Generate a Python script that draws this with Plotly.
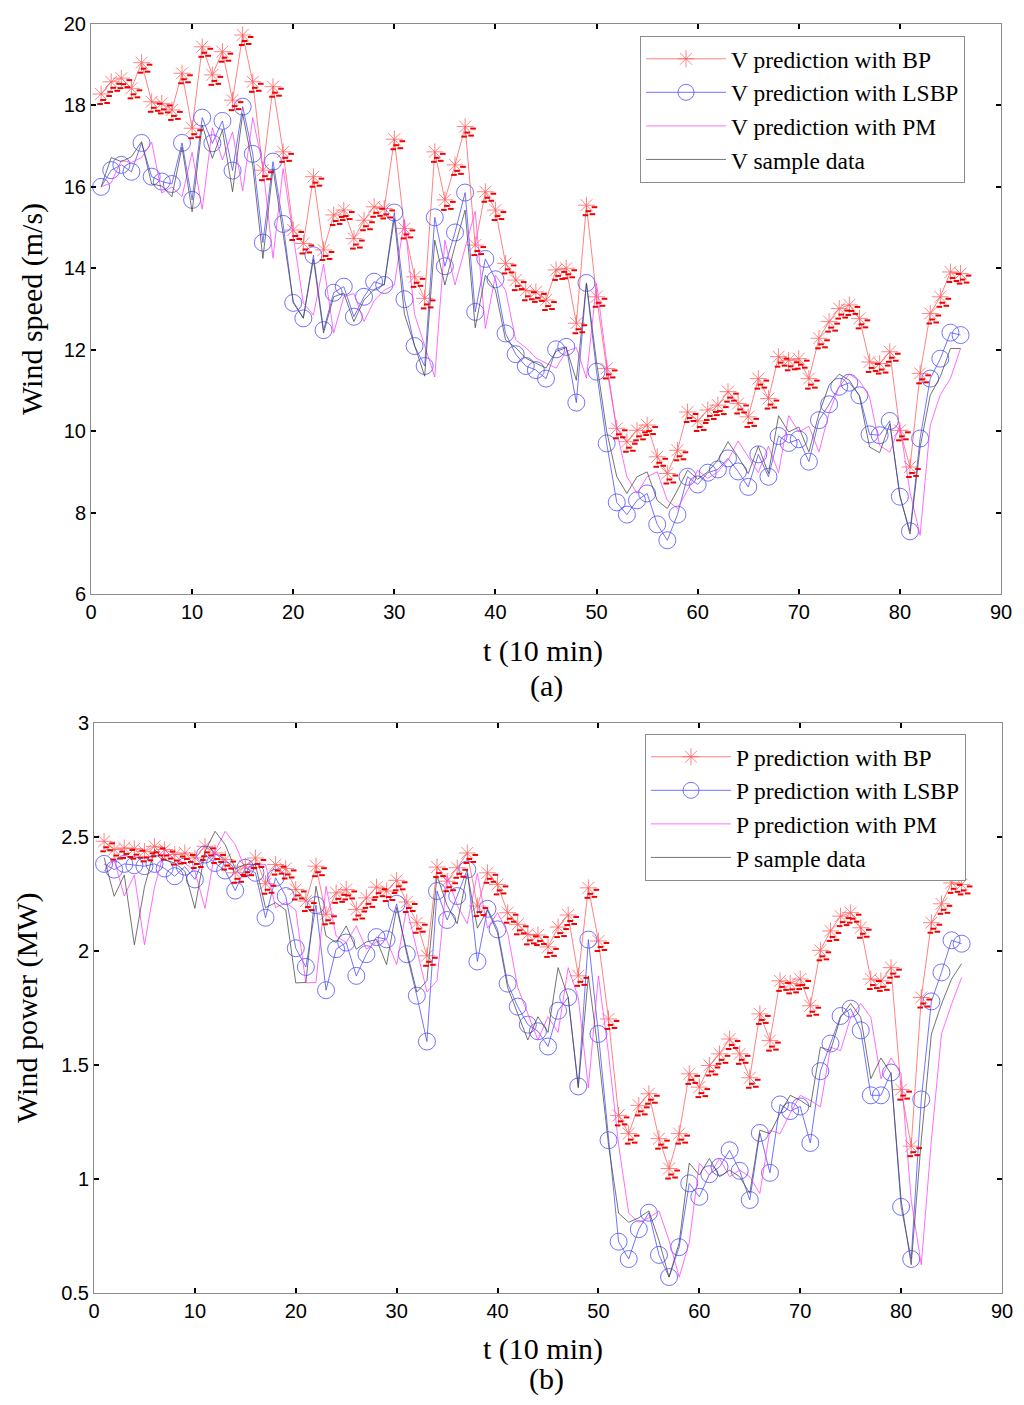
import plotly.graph_objects as go

# time index, 10 minute steps
t = list(range(1, 87))

# (a) wind speed, m/s
v_bp = [18.28, 18.58, 18.67, 18.42, 19.05, 18.09, 18.05, 17.89, 18.79, 17.44,
        19.44, 18.75, 19.32, 18.13, 19.73, 18.58, 16.41, 18.46, 16.86, 14.94,
        14.61, 16.25, 14.45, 15.31, 15.43, 14.73, 15.18, 15.51, 15.47, 17.17,
        14.98, 13.79, 13.26, 16.86, 15.68, 16.54, 17.48, 14.57, 15.88, 15.43,
        14.12, 13.71, 13.46, 13.42, 13.22, 13.96, 14.00, 12.65, 15.55, 13.30,
        11.54, 10.07, 9.74, 10.02, 10.15, 9.37, 8.96, 9.53, 10.47, 10.25,
        10.52, 10.64, 10.97, 10.68, 10.35, 11.29, 10.80, 11.83, 11.74, 11.78,
        11.29, 12.28, 12.69, 13.01, 13.10, 12.77, 11.70, 11.66, 11.95, 10.02,
        9.12, 11.42, 12.89, 13.30, 13.91, 13.87]
v_lsbp = [16.00, 16.41, 16.54, 16.37, 17.08, 16.25, 16.13, 16.07, 17.08, 15.68,
          17.70, 17.07, 17.62, 16.40, 17.97, 16.81, 14.63, 16.62, 15.09, 13.15,
          12.77, 14.32, 12.48, 13.40, 13.55, 12.81, 13.30, 13.67, 13.59, 15.37,
          13.24, 12.09, 11.60, 15.25, 14.05, 14.88, 15.86, 12.93, 14.23, 13.73,
          12.40, 11.89, 11.60, 11.50, 11.29, 12.01, 12.07, 10.70, 13.64, 11.46,
          9.70, 8.25, 7.95, 8.30, 8.47, 7.71, 7.32, 7.95, 8.88, 8.69,
          8.98, 9.06, 9.33, 9.01, 8.63, 9.43, 8.88, 9.88, 9.71, 9.80,
          9.25, 10.27, 10.66, 11.09, 11.19, 10.88, 9.92, 9.90, 10.25, 8.39,
          7.54, 9.82, 11.29, 11.78, 12.42, 12.36]
v_pm = [16.00, 16.10, 16.65, 16.60, 16.72, 17.10, 15.85, 16.00, 15.76, 16.85,
        15.45, 17.45, 16.66, 17.35, 15.90, 17.70, 16.50, 14.25, 16.45, 14.85,
        13.15, 12.85, 14.10, 12.41, 13.30, 13.38, 12.69, 13.20, 13.46, 13.59,
        15.20, 12.87, 12.10, 11.33, 14.69, 13.59, 14.50, 15.40, 12.52, 13.83,
        13.46, 12.24, 12.05, 11.80, 11.67, 11.55, 11.96, 12.05, 11.30, 13.63,
        11.70, 10.00, 8.88, 8.47, 8.88, 9.00, 8.30, 8.10, 8.55, 9.04,
        8.84, 9.00, 9.29, 9.76, 9.37, 8.98, 9.63, 8.98, 10.38, 9.98,
        10.12, 9.49, 10.45, 11.10, 11.40, 11.24, 10.84, 9.65, 9.48, 10.15,
        8.50, 7.44, 10.14, 10.90, 11.29, 12.03]
v_sample = [16.00, 16.72, 16.62, 16.74, 17.11, 16.07, 16.02, 15.76, 16.98, 15.39,
            17.52, 16.70, 17.40, 15.88, 17.80, 16.52, 14.24, 16.45, 14.85, 13.18,
            12.78, 14.22, 12.41, 13.30, 13.39, 12.69, 13.22, 13.48, 13.60, 15.22,
            12.87, 12.10, 11.35, 14.69, 13.59, 14.55, 15.43, 12.54, 13.83, 13.46,
            12.24, 12.05, 11.79, 11.67, 11.55, 11.96, 12.05, 11.25, 13.63, 11.70,
            10.00, 8.88, 8.47, 8.88, 9.00, 8.30, 8.10, 8.55, 9.04, 8.82,
            9.00, 9.29, 9.74, 9.37, 8.96, 9.63, 8.96, 10.38, 9.98, 10.10,
            9.49, 10.43, 11.13, 11.40, 11.25, 10.86, 9.61, 9.47, 10.18, 8.43,
            7.47, 9.61, 10.88, 11.34, 12.03, 12.03]

# (b) wind power, MW
p_bp = [2.481, 2.445, 2.452, 2.449, 2.437, 2.459, 2.445, 2.423, 2.430, 2.408,
        2.459, 2.430, 2.401, 2.343, 2.372, 2.408, 2.295, 2.379, 2.362, 2.270,
        2.219, 2.372, 2.161, 2.255, 2.270, 2.182, 2.233, 2.280, 2.263, 2.310,
        2.215, 2.124, 1.979, 2.368, 2.306, 2.365, 2.430, 2.197, 2.343, 2.292,
        2.168, 2.117, 2.073, 2.070, 2.018, 2.105, 2.158, 1.891, 2.277, 2.044,
        1.702, 1.279, 1.199, 1.323, 1.374, 1.177, 1.046, 1.199, 1.461, 1.403,
        1.498, 1.549, 1.614, 1.549, 1.444, 1.724, 1.607, 1.869, 1.858, 1.877,
        1.760, 2.003, 2.088, 2.153, 2.168, 2.102, 1.877, 1.869, 1.927, 1.392,
        1.144, 1.796, 2.124, 2.207, 2.299, 2.292]
p_lsbp = [2.382, 2.357, 2.382, 2.376, 2.372, 2.382, 2.362, 2.328, 2.370, 2.314,
          2.423, 2.386, 2.353, 2.265, 2.365, 2.343, 2.146, 2.321, 2.241, 2.012,
          1.930, 2.201, 1.828, 2.008, 2.037, 1.891, 1.986, 2.061, 2.051, 2.207,
          1.986, 1.804, 1.603, 2.263, 2.136, 2.241, 2.357, 1.954, 2.185, 2.095,
          1.857, 1.756, 1.677, 1.648, 1.581, 1.738, 1.797, 1.406, 2.050, 1.636,
          1.170, 0.725, 0.649, 0.780, 0.852, 0.667, 0.570, 0.701, 0.981, 0.922,
          1.021, 1.053, 1.126, 1.036, 0.908, 1.202, 1.027, 1.327, 1.298, 1.318,
          1.158, 1.473, 1.594, 1.715, 1.747, 1.652, 1.367, 1.367, 1.467, 0.878,
          0.649, 1.349, 1.779, 1.906, 2.047, 2.032]
p_pm = [2.350, 2.400, 2.241, 2.333, 2.027, 2.280, 2.445, 2.400, 2.386, 2.350,
        2.187, 2.437, 2.525, 2.467, 2.360, 2.380, 2.380, 2.190, 2.212, 2.180,
        1.860, 1.862, 2.284, 2.066, 2.037, 2.110, 2.008, 2.040, 2.050, 1.940,
        2.190, 2.000, 1.820, 1.870, 2.330, 2.200, 2.120, 2.340, 2.100, 2.168,
        2.080, 1.840, 1.724, 1.610, 1.712, 1.643, 1.927, 1.797, 1.400, 1.891,
        1.550, 1.150, 0.850, 0.810, 0.830, 0.860, 0.730, 0.570, 0.720, 1.070,
        1.017, 1.090, 1.010, 1.039, 1.010, 0.937, 1.214, 1.199, 1.287, 1.367,
        1.345, 1.316, 1.578, 1.563, 1.709, 1.770, 1.709, 1.440, 1.531, 1.461,
        0.908, 0.624, 1.170, 1.636, 1.767, 1.884]
p_sample = [2.410, 2.240, 2.333, 2.027, 2.280, 2.445, 2.400, 2.386, 2.350, 2.187,
            2.437, 2.525, 2.467, 2.360, 2.380, 2.380, 2.190, 2.212, 2.180, 1.860,
            1.862, 2.284, 2.066, 2.037, 2.110, 2.008, 2.040, 2.050, 1.940, 2.190,
            2.000, 1.820, 1.870, 2.330, 2.200, 2.120, 2.340, 2.100, 2.180, 2.080,
            1.840, 1.724, 1.610, 1.712, 1.643, 1.927, 1.797, 1.400, 1.891, 1.550,
            1.150, 0.850, 0.810, 0.830, 0.860, 0.730, 0.570, 0.720, 1.070, 1.017,
            1.090, 1.010, 1.039, 1.010, 0.937, 1.214, 1.199, 1.287, 1.367, 1.345,
            1.316, 1.578, 1.563, 1.709, 1.770, 1.709, 1.440, 1.531, 1.461, 0.908,
            0.624, 1.170, 1.636, 1.767, 1.877, 1.945]

SERIF = "Liberation Serif, Times New Roman, serif"
SANS = "Liberation Sans, Arial, sans-serif"

# the page has an 8px body margin, so the figure is 16px smaller than the window
W, H = 1008, 1389
OX, OY = 8, 8


def fx(px):
    return (px - OX) / W


def fy(py):
    return 1 - (py - OY) / H


# plot boxes in window pixels: left, right, top, bottom
BOX_A = (91, 1001, 24, 594)
BOX_B = (94, 1002, 723, 1293)
X_RANGE = (0, 90)
Y_RANGE_A = (6, 20)
Y_RANGE_B = (0.5, 3)

# dark red specks under each BP asterisk (pixel offsets right/down)
SPECKS = [(2, 6), (8, 2), (-1, 10), (6, 9)]


def add_panel(fig, n, leg, prefix, bp, lsbp, pm, sample):
    xa = "x" if n == 1 else "x%d" % n
    ya = "y" if n == 1 else "y%d" % n
    fig.add_trace(go.Scatter(
        x=t, y=bp, xaxis=xa, yaxis=ya, legend=leg, legendgroup=prefix + "bp",
        name=prefix + " prediction with BP", mode="lines+markers",
        line=dict(color="rgba(255,90,90,0.75)", width=1),
        marker=dict(symbol="asterisk-open", size=14,
                    line=dict(color="rgba(255,80,80,0.85)", width=1))))
    fig.add_trace(go.Scatter(
        x=t, y=lsbp, xaxis=xa, yaxis=ya, legend=leg, legendgroup=prefix + "ls",
        name=prefix + " prediction with LSBP", mode="lines+markers",
        line=dict(color="rgba(80,80,255,0.8)", width=1),
        marker=dict(symbol="circle-open", size=17,
                    line=dict(color="rgba(90,90,255,0.75)", width=1))))
    fig.add_trace(go.Scatter(
        x=t, y=pm, xaxis=xa, yaxis=ya, legend=leg, legendgroup=prefix + "pm",
        name=prefix + " prediction with PM", mode="lines",
        line=dict(color="rgba(255,60,255,0.75)", width=1)))
    fig.add_trace(go.Scatter(
        x=t, y=sample, xaxis=xa, yaxis=ya, legend=leg, legendgroup=prefix + "s",
        name=prefix + " sample data", mode="lines",
        line=dict(color="rgba(70,70,70,0.75)", width=1)))


def speck_axes(layout, n, base, box, yr, dx, dy):
    # hidden overlay axes shifted by a few pixels, so the specks sit beside the stars
    left, right, top, bottom = box
    ux = (X_RANGE[1] - X_RANGE[0]) / (right - left)
    uy = (yr[1] - yr[0]) / (bottom - top)
    bx = "x" if base == 1 else "x%d" % base
    by = "y" if base == 1 else "y%d" % base
    layout["xaxis%d" % n] = dict(overlaying=bx, anchor="y%d" % n, visible=False,
                                 range=[X_RANGE[0] - dx * ux, X_RANGE[1] - dx * ux])
    layout["yaxis%d" % n] = dict(overlaying=by, anchor="x%d" % n, visible=False,
                                 range=[yr[0] + dy * uy, yr[1] + dy * uy])


fig = go.Figure()
add_panel(fig, 1, "legend", "V", v_bp, v_lsbp, v_pm, v_sample)
add_panel(fig, 2, "legend2", "P", p_bp, p_lsbp, p_pm, p_sample)

extra_axes = {}
n = 3
for base, box, yr, values in [(1, BOX_A, Y_RANGE_A, v_bp), (2, BOX_B, Y_RANGE_B, p_bp)]:
    for dx, dy in SPECKS:
        speck_axes(extra_axes, n, base, box, yr, dx, dy)
        fig.add_trace(go.Scatter(
            x=t, y=values, xaxis="x%d" % n, yaxis="y%d" % n, showlegend=False,
            mode="markers", hoverinfo="skip",
            marker=dict(symbol="line-ew", size=4,
                        line=dict(color="rgb(240,0,0)", width=2))))
        n += 1

axis_style = dict(
    showgrid=False, zeroline=False, showline=True, linecolor="#8c8c8c",
    linewidth=1, mirror="allticks", ticks="inside", ticklen=5,
    tickcolor="black", tickwidth=2, automargin=False,
    tickfont=dict(family=SANS, size=20, color="black"),
)

legend_style = dict(
    font=dict(family=SERIF, size=23.5, color="black"),
    bgcolor="white", bordercolor="#8c8c8c", borderwidth=1,
    xanchor="left", yanchor="top", traceorder="grouped", tracegroupgap=0,
    itemwidth=80, entrywidth=250,
)

fig.update_layout(
    width=W, height=H, autosize=False,
    margin=dict(l=0, r=0, t=0, b=0),
    plot_bgcolor="white", paper_bgcolor="white",
    showlegend=True,
    xaxis=dict(domain=[fx(BOX_A[0]), fx(BOX_A[1])], anchor="y", range=list(X_RANGE), dtick=10, **axis_style),
    yaxis=dict(domain=[fy(BOX_A[3]), fy(BOX_A[2])], anchor="x", range=list(Y_RANGE_A), dtick=2, **axis_style),
    xaxis2=dict(domain=[fx(BOX_B[0]), fx(BOX_B[1])], anchor="y2", range=list(X_RANGE), dtick=10, **axis_style),
    yaxis2=dict(domain=[fy(BOX_B[3]), fy(BOX_B[2])], anchor="x2", range=list(Y_RANGE_B), dtick=0.5, **axis_style),
    legend=dict(x=fx(640), y=fy(36), **legend_style),
    legend2=dict(x=fx(645), y=fy(734), **legend_style),
    **extra_axes,
)

title_font = dict(family=SERIF, size=30, color="black")
labels = [
    ("Wind speed (m/s)", 32, 309, -90),
    ("t (10 min)", 543, 651, 0),
    ("(a)", 546, 686, 0),
    ("Wind power (MW)", 27, 1008, -90),
    ("t (10 min)", 543, 1349, 0),
    ("(b)", 546, 1379, 0),
]
for text, px, py, angle in labels:
    fig.add_annotation(text=text, x=fx(px), y=fy(py), xref="paper", yref="paper",
                       showarrow=False, textangle=angle, font=title_font,
                       xanchor="center", yanchor="middle")

fig.write_html("out.html")
